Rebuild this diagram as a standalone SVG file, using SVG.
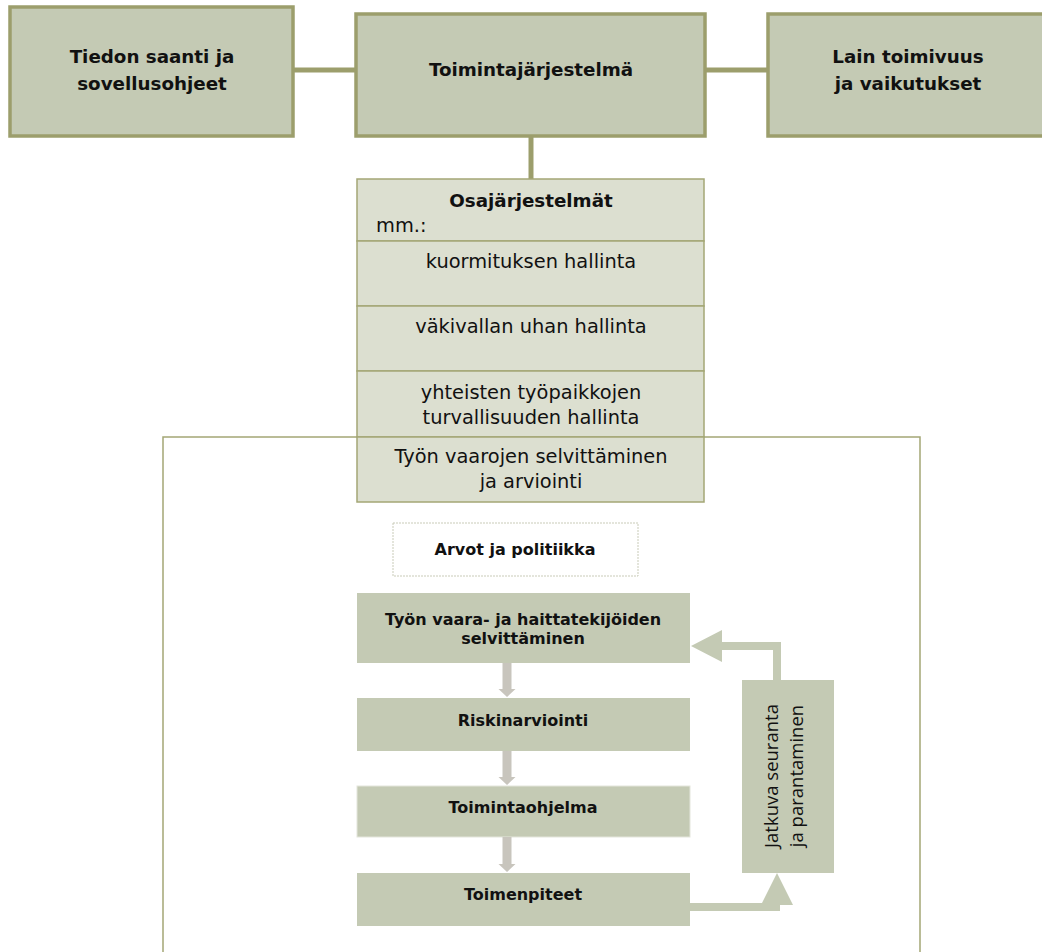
<svg xmlns="http://www.w3.org/2000/svg" width="1042" height="952" viewBox="0 0 1042 952">
<style>
.top{fill:#c4cab4;stroke:#9c9e6c;stroke-width:3.5}
.sub{fill:#dcdfd0;stroke:#a4a776;stroke-width:1.5}
.step{fill:#c4cab4}
.conn{stroke:#9c9e6c;stroke-width:5;fill:none}
.tb{font-family:"DejaVu Sans",sans-serif;font-weight:bold;font-size:18.3px;fill:#111;text-anchor:middle}
.tr{font-family:"DejaVu Sans",sans-serif;font-size:19.4px;fill:#111;text-anchor:middle}
.sb{font-family:"DejaVu Sans",sans-serif;font-weight:bold;font-size:16px;fill:#111;text-anchor:middle}
.vt{font-family:"Open Sans",sans-serif;font-size:18.5px;fill:#111;text-anchor:middle}
.garrow{fill:#c8c5bd}
.farrow{fill:#c4cab4}
</style>
<g id="connectors">
<line class="conn" x1="293" y1="70" x2="356" y2="70"/>
<line class="conn" x1="705" y1="70" x2="768" y2="70"/>
<line class="conn" x1="531" y1="136" x2="531" y2="179"/>
</g>
<g id="outer-frame">
<path d="M163 962 V437 H920 V962" fill="none" stroke="#a4a776" stroke-width="1.5"/>
</g>
<g id="node-tiedon">
<rect class="top" x="10" y="7" width="283" height="129"/>
<text class="tb" x="152" y="63">Tiedon saanti ja</text>
<text class="tb" x="152" y="90">sovellusohjeet</text>
</g>
<g id="node-toimintajarjestelma">
<rect class="top" x="356" y="14" width="349" height="122"/>
<text class="tb" x="531" y="76">Toimintajärjestelmä</text>
</g>
<g id="node-lain">
<rect class="top" x="768" y="14" width="280" height="122"/>
<text class="tb" x="908" y="63">Lain toimivuus</text>
<text class="tb" x="908" y="90">ja vaikutukset</text>
</g>
<g id="node-osajarjestelmat">
<rect class="sub" x="357" y="179" width="347" height="62"/>
<text class="tb" x="531" y="207">Osajärjestelmät</text>
<text class="tr" x="376" y="232" style="text-anchor:start">mm.:</text>
</g>
<g id="node-kuormitus">
<rect class="sub" x="357" y="241" width="347" height="65"/>
<text class="tr" x="531" y="268">kuormituksen hallinta</text>
</g>
<g id="node-vakivalta">
<rect class="sub" x="357" y="306" width="347" height="65"/>
<text class="tr" x="531" y="333">väkivallan uhan hallinta</text>
</g>
<g id="node-yhteiset">
<rect class="sub" x="357" y="371" width="347" height="66"/>
<text class="tr" x="531" y="399">yhteisten työpaikkojen</text>
<text class="tr" x="531" y="424">turvallisuuden hallinta</text>
</g>
<g id="node-tyon-vaarojen">
<rect class="sub" x="357" y="437" width="347" height="65"/>
<text class="tr" x="531" y="463">Työn vaarojen selvittäminen</text>
<text class="tr" x="531" y="488">ja arviointi</text>
</g>
<g id="node-arvot">
<rect x="393" y="523" width="245" height="53" fill="#fff" stroke="#c9cbb8" stroke-width="1" stroke-dasharray="2,1"/>
<text class="sb" x="515" y="555">Arvot ja politiikka</text>
</g>
<g id="node-vaara-haitta">
<rect class="step" x="357" y="593" width="333" height="70"/>
<text class="sb" x="523" y="625">Työn vaara- ja haittatekijöiden</text>
<text class="sb" x="523" y="644">selvittäminen</text>
</g>
<g id="node-riskinarviointi">
<rect class="step" x="357" y="698" width="333" height="53"/>
<text class="sb" x="523" y="726">Riskinarviointi</text>
</g>
<g id="node-toimintaohjelma">
<rect class="step" x="357" y="786" width="333" height="51" stroke="#e4e6dc" stroke-width="1"/>
<text class="sb" x="523" y="813">Toimintaohjelma</text>
</g>
<g id="node-toimenpiteet">
<rect class="step" x="357" y="873" width="333" height="53"/>
<text class="sb" x="523" y="900">Toimenpiteet</text>
</g>
<g id="node-jatkuva">
<rect class="step" x="742" y="680" width="92" height="193"/>
<text class="vt" transform="translate(778 776) rotate(-90)">Jatkuva seuranta</text>
<text class="vt" transform="translate(803 776) rotate(-90)">ja parantaminen</text>
</g>
<g id="flow-arrows">
<path class="garrow" d="M502.5 663 H511.5 V689 H515.5 L507 697 L498.5 689 H502.5 Z"/>
<path class="garrow" d="M502.5 751 H511.5 V777 H515.5 L507 785 L498.5 777 H502.5 Z"/>
<path class="garrow" d="M502.5 837 H511.5 V864 H515.5 L507 872 L498.5 864 H502.5 Z"/>
<path class="farrow" d="M773 680 V650 H722 V662 L691 646 L722 630 V642 H781 V680 Z"/>
<path class="farrow" d="M690 903 H762 L777 873 L793 905 H780 V911 H690 Z"/>
</g>
</svg>
